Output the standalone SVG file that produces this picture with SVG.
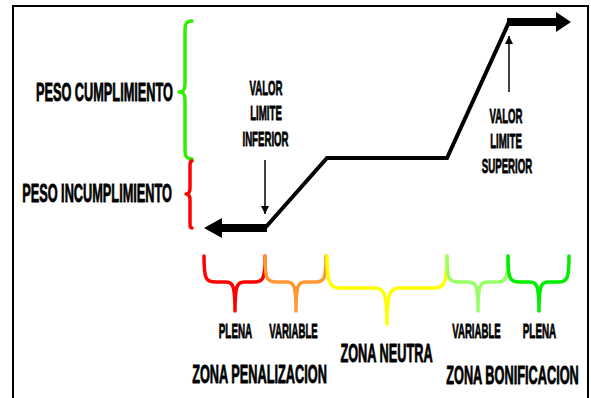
<svg xmlns="http://www.w3.org/2000/svg" width="591" height="398" viewBox="0 0 591 398">
  <defs>
    <style>
      .t{font-family:"Liberation Sans",Arial,sans-serif;font-weight:bold;fill:#000;stroke:#000;stroke-width:0.8;stroke-linejoin:round}
      .big{font-size:25px}
      .sm{font-size:21px}
      .m{text-anchor:middle}
      .e{text-anchor:end}
      .br{fill:none;stroke-width:3.5;stroke-linecap:round;stroke-linejoin:round}
      .thin{stroke:#000;stroke-width:1.5;fill:none}
      .curve{stroke:#000;stroke-width:4;fill:none;stroke-linejoin:miter}
    </style>
    <marker id="ah" viewBox="0 0 10 10" refX="10" refY="5" markerWidth="8" markerHeight="8" markerUnits="userSpaceOnUse" orient="auto">
      <path d="M0,0 L10,5 L0,10 Z" fill="#000"/>
    </marker>
  </defs>
  <rect width="591" height="398" fill="#fff"/>
  <path d="M13,398 V6 H588 V398" fill="none" stroke="#000" stroke-width="2"/>

  <g id="brace-cumplimiento">
    <path class="br" stroke="#33ee00" d="M192,21 C186,21 185,24 185,32 L185,84 C185,90 183,92 179,92 C183,92 185,94 185,100 L185,148 C185,156 186,159 192,159"/>
    <text class="t big e" transform="translate(173,101) scale(0.51,1)">PESO CUMPLIMIENTO</text>
  </g>
  <g id="brace-incumplimiento">
    <path class="br" stroke="#ff0000" d="M192,161 C190,161 190,163 190,168 L190,188 C190,192 189,194 186,194 C189,194 190,196 190,200 L190,222 C190,227 190,228 192,228"/>
    <text class="t big e" transform="translate(172,202) scale(0.51,1)">PESO INCUMPLIMIENTO</text>
  </g>

  <g id="curve">
    <polyline class="curve" points="265,228 327,158 447,158 509,22"/>
    <rect x="218" y="224" width="49" height="8" fill="#000"/>
    <polygon points="204,228 222,218 222,238" fill="#000"/>
    <rect x="507" y="18" width="52" height="8" fill="#000"/>
    <polygon points="571,22 556,12 556,32" fill="#000"/>
  </g>

  <g id="valor-inferior">
    <text class="t sm m" transform="translate(266,95) scale(0.46,1)">VALOR</text>
    <text class="t sm m" transform="translate(266,120) scale(0.46,1)">LIMITE</text>
    <text class="t sm m" transform="translate(265.5,146) scale(0.46,1)">INFERIOR</text>
  </g>
  <g id="valor-superior">
    <text class="t sm m" transform="translate(506,123) scale(0.46,1)">VALOR</text>
    <text class="t sm m" transform="translate(506,148) scale(0.46,1)">LIMITE</text>
    <text class="t sm m" transform="translate(507,173) scale(0.46,1)">SUPERIOR</text>
  </g>

  <g id="connectors">
    <line class="thin" x1="265" y1="160" x2="265" y2="214" marker-end="url(#ah)"/>
    <line class="thin" x1="509" y1="92" x2="509" y2="36" marker-end="url(#ah)"/>
  </g>

  <g id="pen-plena">
    <path class="br" stroke="#ff0000" d="M204,256 C204,280 206,282 216,282 L226,282 C233,282 235,286 235,311 C235,286 237,282 244,282 L254,282 C263,282 265,280 265,256"/>
    <text class="t sm m" transform="translate(235.5,338) scale(0.47,1)">PLENA</text>
  </g>
  <g id="pen-variable">
    <path class="br" stroke="#ff9933" d="M265,256 C265,280 267,282 277,282 L287,282 C294,282 296,286 296,311 C296,286 298,282 305,282 L315,282 C324,282 326,280 326,256"/>
    <text class="t sm m" transform="translate(293.5,338) scale(0.46,1)">VARIABLE</text>
  </g>
  <g id="neutra">
    <path class="br" stroke="#ffff00" d="M327,256 C327,284 330,288 340,288 L375,288 C384,288 387,294 387,324 C387,294 390,288 399,288 L434,288 C444,288 447,284 447,256"/>
  </g>
  <g id="bon-variable">
    <path class="br" stroke="#99ff66" d="M447,256 C447,280 449,282 459,282 L469,282 C476,282 478,286 478,311 C478,286 480,282 487,282 L497,282 C506,282 508,280 508,256"/>
    <text class="t sm m" transform="translate(476.5,338) scale(0.46,1)">VARIABLE</text>
  </g>
  <g id="bon-plena">
    <path class="br" stroke="#00ee00" d="M508,256 C508,280 510,282 520,282 L530,282 C537,282 539,286 539,311 C539,286 541,282 548,282 L558,282 C567,282 569,280 569,256"/>
    <text class="t sm m" transform="translate(539.5,338) scale(0.47,1)">PLENA</text>
  </g>

  <g id="zone-labels">
    <text class="t big m" transform="translate(259.5,383) scale(0.51,1)">ZONA PENALIZACION</text>
    <text class="t big m" transform="translate(386.5,362) scale(0.51,1)">ZONA NEUTRA</text>
    <text class="t big m" transform="translate(512.5,384) scale(0.51,1)">ZONA BONIFICACION</text>
  </g>
</svg>
